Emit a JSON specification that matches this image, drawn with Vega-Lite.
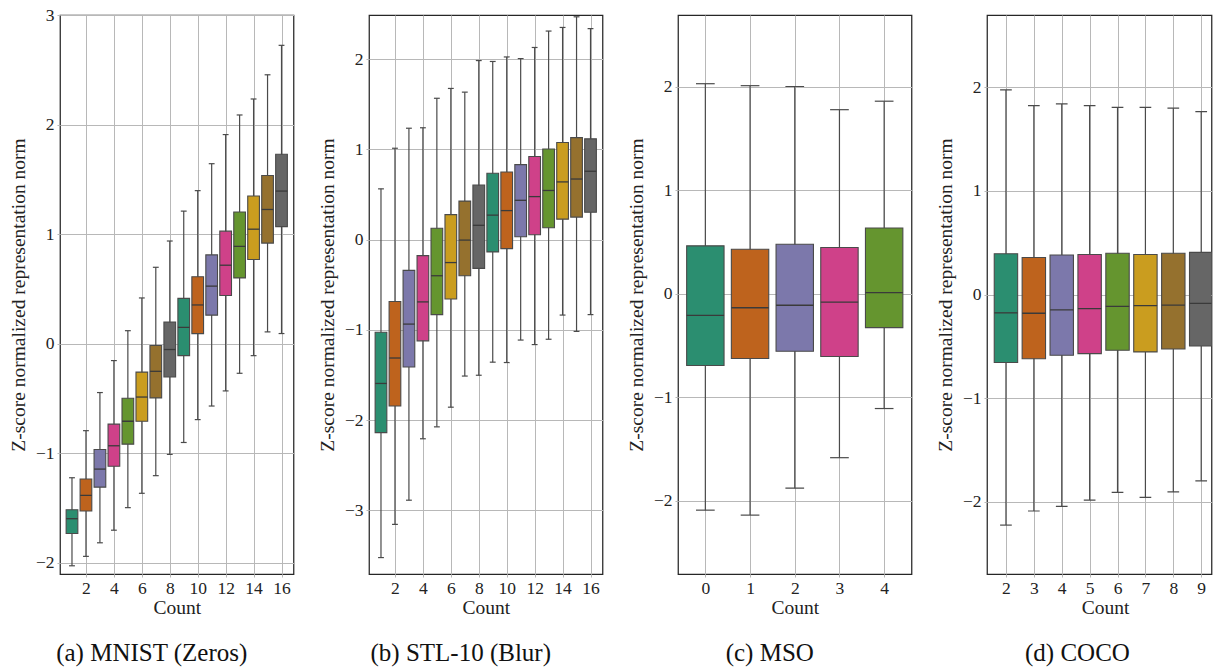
{
  "$schema": "https://vega.github.io/schema/vega-lite/v6.json",
  "padding": {"left": 7, "right": 0, "top": 5, "bottom": 0},
  "background": "white",
  "spacing": 75,
  "bounds": "flush",
  "datasets": {
    "a": [
      {"count": 1, "lo": -2.03, "q1": -1.735, "med": -1.60, "q3": -1.518, "hi": -1.226},
      {"count": 2, "lo": -1.944, "q1": -1.529, "med": -1.387, "q3": -1.237, "hi": -0.796},
      {"count": 3, "lo": -1.82, "q1": -1.312, "med": -1.147, "q3": -0.968, "hi": -0.448},
      {"count": 4, "lo": -1.705, "q1": -1.121, "med": -0.934, "q3": -0.736, "hi": -0.156},
      {"count": 5, "lo": -1.499, "q1": -0.919, "med": -0.71, "q3": -0.50, "hi": 0.117},
      {"count": 6, "lo": -1.368, "q1": -0.71, "med": -0.489, "q3": -0.261, "hi": 0.416},
      {"count": 7, "lo": -1.207, "q1": -0.497, "med": -0.254, "q3": -0.018, "hi": 0.696},
      {"count": 8, "lo": -1.013, "q1": -0.306, "med": -0.055, "q3": 0.195, "hi": 0.936},
      {"count": 9, "lo": -0.904, "q1": -0.111, "med": 0.147, "q3": 0.412, "hi": 1.209},
      {"count": 10, "lo": -0.695, "q1": 0.09, "med": 0.352, "q3": 0.61, "hi": 1.396},
      {"count": 11, "lo": -0.571, "q1": 0.259, "med": 0.524, "q3": 0.809, "hi": 1.642},
      {"count": 12, "lo": -0.433, "q1": 0.438, "med": 0.715, "q3": 1.026, "hi": 1.908},
      {"count": 13, "lo": -0.272, "q1": 0.599, "med": 0.887, "q3": 1.201, "hi": 2.087},
      {"count": 14, "lo": -0.111, "q1": 0.767, "med": 1.044, "q3": 1.347, "hi": 2.233},
      {"count": 15, "lo": 0.106, "q1": 0.917, "med": 1.224, "q3": 1.534, "hi": 2.454},
      {"count": 16, "lo": 0.091, "q1": 1.067, "med": 1.392, "q3": 1.729, "hi": 2.723}
    ],
    "b": [
      {"count": 1, "lo": -3.524, "q1": -2.139, "med": -1.594, "q3": -1.026, "hi": 0.563},
      {"count": 2, "lo": -3.156, "q1": -1.844, "med": -1.312, "q3": -0.686, "hi": 1.013},
      {"count": 3, "lo": -2.888, "q1": -1.412, "med": -0.936, "q3": -0.341, "hi": 1.235},
      {"count": 4, "lo": -2.207, "q1": -1.122, "med": -0.69, "q3": -0.177, "hi": 1.24},
      {"count": 5, "lo": -2.075, "q1": -0.831, "med": -0.40, "q3": 0.127, "hi": 1.567},
      {"count": 6, "lo": -1.857, "q1": -0.658, "med": -0.254, "q3": 0.277, "hi": 1.676},
      {"count": 7, "lo": -1.512, "q1": -0.40, "med": -0.005, "q3": 0.427, "hi": 1.635},
      {"count": 8, "lo": -1.503, "q1": -0.318, "med": 0.159, "q3": 0.604, "hi": 1.985},
      {"count": 9, "lo": -1.358, "q1": -0.136, "med": 0.272, "q3": 0.736, "hi": 1.975},
      {"count": 10, "lo": -1.362, "q1": -0.10, "med": 0.322, "q3": 0.749, "hi": 2.025},
      {"count": 11, "lo": -1.113, "q1": 0.032, "med": 0.436, "q3": 0.831, "hi": 2.007},
      {"count": 12, "lo": -1.163, "q1": 0.054, "med": 0.477, "q3": 0.922, "hi": 2.13},
      {"count": 13, "lo": -1.104, "q1": 0.132, "med": 0.545, "q3": 1.004, "hi": 2.312},
      {"count": 14, "lo": -0.836, "q1": 0.227, "med": 0.64, "q3": 1.076, "hi": 2.352},
      {"count": 15, "lo": -1.017, "q1": 0.25, "med": 0.672, "q3": 1.131, "hi": 2.47},
      {"count": 16, "lo": -0.831, "q1": 0.304, "med": 0.758, "q3": 1.117, "hi": 2.339}
    ],
    "c": [
      {"count": 0, "lo": -2.09, "q1": -0.692, "med": -0.208, "q3": 0.464, "hi": 2.031},
      {"count": 1, "lo": -2.138, "q1": -0.625, "med": -0.134, "q3": 0.432, "hi": 2.012},
      {"count": 2, "lo": -1.878, "q1": -0.554, "med": -0.11, "q3": 0.479, "hi": 2.004},
      {"count": 3, "lo": -1.583, "q1": -0.605, "med": -0.079, "q3": 0.448, "hi": 1.78},
      {"count": 4, "lo": -1.108, "q1": -0.326, "med": 0.012, "q3": 0.637, "hi": 1.862}
    ],
    "d": [
      {"count": 2, "lo": -2.226, "q1": -0.657, "med": -0.177, "q3": 0.394, "hi": 1.975},
      {"count": 3, "lo": -2.09, "q1": -0.62, "med": -0.181, "q3": 0.357, "hi": 1.823},
      {"count": 4, "lo": -2.045, "q1": -0.587, "med": -0.148, "q3": 0.382, "hi": 1.84},
      {"count": 5, "lo": -1.984, "q1": -0.571, "med": -0.136, "q3": 0.386, "hi": 1.823},
      {"count": 6, "lo": -1.91, "q1": -0.538, "med": -0.115, "q3": 0.398, "hi": 1.807},
      {"count": 7, "lo": -1.959, "q1": -0.554, "med": -0.107, "q3": 0.386, "hi": 1.807},
      {"count": 8, "lo": -1.906, "q1": -0.526, "med": -0.103, "q3": 0.398, "hi": 1.799},
      {"count": 9, "lo": -1.799, "q1": -0.497, "med": -0.086, "q3": 0.407, "hi": 1.766}
    ]
  },
  "hconcat": [
    {
      "width": 233.5, "height": 559,
      "data": {"name": "a"},
      "title": {"text": "(a) MNIST (Zeros)", "orient": "bottom", "anchor": "middle", "frame": "group", "dx": -25, "offset": 24},
      "encoding": {
        "x": {"field": "count", "type": "quantitative", "scale": {"domain": [0.5, 16.5], "nice": false, "zero": false}, "axis": {"values": [2, 4, 6, 8, 10, 12, 14, 16], "title": "Count"}}
      },
      "layer": [
        {"mark": {"type": "rule", "color": "#4a4a4a", "strokeWidth": 1.2},
         "encoding": {"y": {"field": "lo", "type": "quantitative", "scale": {"domain": [-2.105, 3], "nice": false, "zero": false}, "axis": {"values": [-2, -1, 0, 1, 2, 3], "format": "d", "title": "Z-score normalized representation norm"}}, "y2": {"field": "hi"}}},
        {"mark": {"type": "bar", "orient": "vertical", "size": 11.7, "stroke": "#4a4a4a", "strokeWidth": 1.1, "opacity": 1},
         "encoding": {"y": {"field": "q1", "type": "quantitative"}, "y2": {"field": "q3"},
           "color": {"field": "count", "type": "nominal", "legend": null, "scale": {"domain": [1,2,3,4,5,6,7,8,9,10,11,12,13,14,15,16], "range": ["#2b8e70","#be631d","#7c78ab","#cf4189","#65952f","#ca9d1f","#95712e","#666666","#2b8e70","#be631d","#7c78ab","#cf4189","#65952f","#ca9d1f","#95712e","#666666"]}}}},
        {"mark": {"type": "tick", "orient": "horizontal", "size": 11.7, "thickness": 1.3, "color": "#3a3a3a", "opacity": 1}, "encoding": {"y": {"field": "med", "type": "quantitative"}}},
        {"mark": {"type": "tick", "orient": "horizontal", "size": 5.85, "thickness": 1.2, "color": "#4a4a4a", "opacity": 1}, "encoding": {"y": {"field": "lo", "type": "quantitative"}}},
        {"mark": {"type": "tick", "orient": "horizontal", "size": 5.85, "thickness": 1.2, "color": "#4a4a4a", "opacity": 1}, "encoding": {"y": {"field": "hi", "type": "quantitative"}}}
      ]
    },
    {
      "width": 233.5, "height": 559,
      "data": {"name": "b"},
      "title": {"text": "(b) STL-10 (Blur)", "orient": "bottom", "anchor": "middle", "frame": "group", "dx": -25, "offset": 24},
      "encoding": {
        "x": {"field": "count", "type": "quantitative", "scale": {"domain": [0.5, 16.5], "nice": false, "zero": false}, "axis": {"values": [2, 4, 6, 8, 10, 12, 14, 16], "title": "Count"}}
      },
      "layer": [
        {"mark": {"type": "rule", "color": "#4a4a4a", "strokeWidth": 1.2},
         "encoding": {"y": {"field": "lo", "type": "quantitative", "scale": {"domain": [-3.706, 2.49], "nice": false, "zero": false}, "axis": {"values": [-3, -2, -1, 0, 1, 2], "format": "d", "title": "Z-score normalized representation norm"}}, "y2": {"field": "hi"}}},
        {"mark": {"type": "bar", "orient": "vertical", "size": 11.7, "stroke": "#4a4a4a", "strokeWidth": 1.1, "opacity": 1},
         "encoding": {"y": {"field": "q1", "type": "quantitative"}, "y2": {"field": "q3"},
           "color": {"field": "count", "type": "nominal", "legend": null, "scale": {"domain": [1,2,3,4,5,6,7,8,9,10,11,12,13,14,15,16], "range": ["#2b8e70","#be631d","#7c78ab","#cf4189","#65952f","#ca9d1f","#95712e","#666666","#2b8e70","#be631d","#7c78ab","#cf4189","#65952f","#ca9d1f","#95712e","#666666"]}}}},
        {"mark": {"type": "tick", "orient": "horizontal", "size": 11.7, "thickness": 1.3, "color": "#3a3a3a", "opacity": 1}, "encoding": {"y": {"field": "med", "type": "quantitative"}}},
        {"mark": {"type": "tick", "orient": "horizontal", "size": 5.85, "thickness": 1.2, "color": "#4a4a4a", "opacity": 1}, "encoding": {"y": {"field": "lo", "type": "quantitative"}}},
        {"mark": {"type": "tick", "orient": "horizontal", "size": 5.85, "thickness": 1.2, "color": "#4a4a4a", "opacity": 1}, "encoding": {"y": {"field": "hi", "type": "quantitative"}}}
      ]
    },
    {
      "width": 233.5, "height": 559,
      "data": {"name": "c"},
      "title": {"text": "(c) MSO", "orient": "bottom", "anchor": "middle", "frame": "group", "dx": -25, "offset": 24},
      "encoding": {
        "x": {"field": "count", "type": "quantitative", "scale": {"domain": [-0.5, 4.5], "nice": false, "zero": false}, "axis": {"values": [0, 1, 2, 3, 4], "title": "Count"}}
      },
      "layer": [
        {"mark": {"type": "rule", "color": "#4a4a4a", "strokeWidth": 1.2},
         "encoding": {"y": {"field": "lo", "type": "quantitative", "scale": {"domain": [-2.707, 2.695], "nice": false, "zero": false}, "axis": {"values": [-2, -1, 0, 1, 2], "format": "d", "title": "Z-score normalized representation norm"}}, "y2": {"field": "hi"}}},
        {"mark": {"type": "bar", "orient": "vertical", "size": 37.4, "stroke": "#4a4a4a", "strokeWidth": 1.1, "opacity": 1},
         "encoding": {"y": {"field": "q1", "type": "quantitative"}, "y2": {"field": "q3"},
           "color": {"field": "count", "type": "nominal", "legend": null, "scale": {"domain": [0,1,2,3,4], "range": ["#2b8e70","#be631d","#7c78ab","#cf4189","#65952f"]}}}},
        {"mark": {"type": "tick", "orient": "horizontal", "size": 37.4, "thickness": 1.3, "color": "#3a3a3a", "opacity": 1}, "encoding": {"y": {"field": "med", "type": "quantitative"}}},
        {"mark": {"type": "tick", "orient": "horizontal", "size": 18.7, "thickness": 1.2, "color": "#4a4a4a", "opacity": 1}, "encoding": {"y": {"field": "lo", "type": "quantitative"}}},
        {"mark": {"type": "tick", "orient": "horizontal", "size": 18.7, "thickness": 1.2, "color": "#4a4a4a", "opacity": 1}, "encoding": {"y": {"field": "hi", "type": "quantitative"}}}
      ]
    },
    {
      "width": 224.5, "height": 559,
      "data": {"name": "d"},
      "title": {"text": "(d) COCO", "orient": "bottom", "anchor": "start", "frame": "group", "dx": 38, "offset": 24},
      "encoding": {
        "x": {"field": "count", "type": "quantitative", "scale": {"domain": [1.5, 9.19], "nice": false, "zero": false}, "axis": {"values": [2, 3, 4, 5, 6, 7, 8, 9], "title": "Count", "titleX": 118}}
      },
      "layer": [
        {"mark": {"type": "rule", "color": "#4a4a4a", "strokeWidth": 1.2, "clip": true},
         "encoding": {"y": {"field": "lo", "type": "quantitative", "scale": {"domain": [-2.698, 2.698], "nice": false, "zero": false}, "axis": {"values": [-2, -1, 0, 1, 2], "format": "d", "title": "Z-score normalized representation norm"}}, "y2": {"field": "hi"}}},
        {"mark": {"type": "bar", "orient": "vertical", "size": 23.4, "stroke": "#4a4a4a", "strokeWidth": 1.1, "opacity": 1, "clip": true},
         "encoding": {"y": {"field": "q1", "type": "quantitative"}, "y2": {"field": "q3"},
           "color": {"field": "count", "type": "nominal", "legend": null, "scale": {"domain": [2,3,4,5,6,7,8,9], "range": ["#2b8e70","#be631d","#7c78ab","#cf4189","#65952f","#ca9d1f","#95712e","#666666"]}}}},
        {"mark": {"type": "tick", "orient": "horizontal", "size": 23.4, "thickness": 1.3, "color": "#3a3a3a", "opacity": 1, "clip": true}, "encoding": {"y": {"field": "med", "type": "quantitative"}}},
        {"mark": {"type": "tick", "orient": "horizontal", "size": 11.7, "thickness": 1.2, "color": "#4a4a4a", "opacity": 1, "clip": true}, "encoding": {"y": {"field": "lo", "type": "quantitative"}}},
        {"mark": {"type": "tick", "orient": "horizontal", "size": 11.7, "thickness": 1.2, "color": "#4a4a4a", "opacity": 1, "clip": true}, "encoding": {"y": {"field": "hi", "type": "quantitative"}}}
      ]
    }
  ],
  "resolve": {"scale": {"x": "independent", "y": "independent", "color": "independent"}},
  "config": {
    "font": "Liberation Serif",
    "view": {"stroke": "#262626", "strokeWidth": 1.25},
    "axis": {
      "domain": false, "grid": true, "gridColor": "#b8b8b8", "gridWidth": 1,
      "ticks": true, "tickColor": "#b8b8b8", "tickSize": 3,
      "labelFont": "Liberation Serif", "labelFontSize": 17.5, "labelColor": "#222222",
      "labelPadding": 2, "labelFlush": false, "labelOverlap": false,
      "titleFont": "Liberation Serif", "titleFontSize": 19.5, "titleFontWeight": "normal", "titleColor": "#222222"
    },
    "axisY": {"titlePadding": 7, "labelPadding": 3},
    "axisX": {"titlePadding": 2},
    "title": {"font": "Liberation Serif", "fontSize": 25, "fontWeight": "normal", "color": "#111111"}
  }
}
